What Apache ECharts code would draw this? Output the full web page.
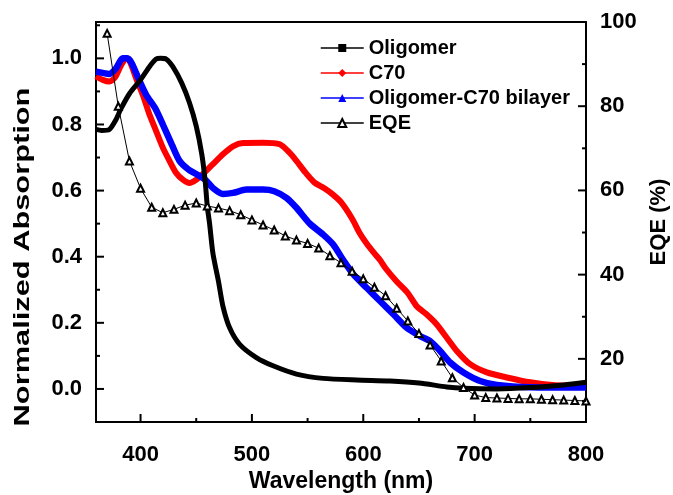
<!DOCTYPE html>
<html>
<head>
<meta charset="utf-8">
<script src="https://cdn.jsdelivr.net/npm/echarts@6/dist/echarts.min.js"></script>
<style>
html,body{margin:0;padding:0;background:#fff;}
#chart{width:673px;height:495px;}
</style>
</head>
<body>
<div id="chart"></div>
<script>
// ---- data ----
const oligomerNm  = [360,365,372,378,382,390,400,408,414,418,423,429,437,444,450,455,458,460,462,465,470,474,480,489,504,519,540,564,594,624,650,675,690,720,750,780,800];
const oligomerAbs = [0.785,0.782,0.785,0.815,0.845,0.893,0.935,0.975,0.998,1.0,0.998,0.975,0.925,0.865,0.795,0.71,0.63,0.55,0.5,0.41,0.325,0.25,0.185,0.135,0.095,0.07,0.045,0.032,0.027,0.024,0.018,0.006,0.002,0.0,0.004,0.012,0.02];

const c70Nm  = [360,366,372,377,382,386,388,391,396,402,408,414,420,426,432,438,444,450,456,465,474,483,492,510,525,534,540,548,556,565,572,580,590,597,603,610,615,620,630,640,648,657,666,675,684,696,711,730,750,770,800];
const c70Abs = [0.946,0.935,0.93,0.942,0.976,0.998,1.0,0.986,0.94,0.89,0.83,0.78,0.73,0.69,0.653,0.633,0.623,0.633,0.65,0.68,0.71,0.734,0.744,0.745,0.74,0.714,0.69,0.655,0.625,0.607,0.59,0.565,0.515,0.47,0.44,0.41,0.39,0.365,0.325,0.29,0.25,0.225,0.195,0.155,0.115,0.075,0.05,0.034,0.02,0.012,0.009];

const bilayerNm  = [360,366,372,378,384,388,392,398,405,413,420,428,435,443,450,458,465,474,483,495,510,520,531,540,552,564,573,582,591,603,615,627,639,651,660,669,678,690,705,720,750,800];
const bilayerAbs = [0.96,0.956,0.953,0.97,1.0,1.0,0.986,0.94,0.89,0.85,0.8,0.74,0.69,0.664,0.65,0.633,0.608,0.59,0.593,0.603,0.603,0.598,0.578,0.548,0.5,0.467,0.437,0.39,0.347,0.306,0.266,0.226,0.185,0.16,0.145,0.115,0.08,0.05,0.024,0.012,0.005,0.004];

const eqeNm  = [370,380,390,400,410,420,430,440,450,460,470,480,490,500,510,520,530,540,550,560,570,580,590,600,610,620,630,640,650,660,670,680,690,700,710,720,730,740,750,760,770,780,790,800];
const eqeVal = [97.3,80,67,60.5,56,54.7,55.5,56.5,57,56.3,55.8,55.2,54.2,53,51.8,50.6,49.2,48.2,47.4,46.3,44.5,42.8,40.8,39,37,35,32,29,26,23.3,19.5,15.5,13.2,11.4,10.8,10.7,10.6,10.5,10.5,10.4,10.3,10.2,10.1,10.0];

const seriesNames = ['Oligomer','C70','Oligomer-C70 bilayer','EQE'];

// axis ranges and tick values
const xRange   = [360, 800];
const absRange = [-0.1, 1.11];
const eqeRange = [5, 100];
const xMajorTicks   = [400,500,600,700,800];
const xMinorTicks   = [450,550,650,750];
const absMajorTicks = [0,0.2,0.4,0.6,0.8,1.0];
const absMinorTicks = [0.1,0.3,0.5,0.7,0.9,1.1];
const eqeMajorTicks = [20,40,60,80,100];
const eqeMinorTicks = [10,30,50,70,90];

// ---- chart ----
const FONT = "'Liberation Sans', Arial, Helvetica, sans-serif";
const zip = (a,b) => a.map((x,i)=>[x,b[i]]);
const chart = echarts.init(document.getElementById('chart'), null, {renderer:'canvas'});

const lbl = () => ({fontFamily:FONT, fontWeight:'bold', fontSize:22, color:'#000'});

// axis titles as text elements
const titles = [
  {type:'text',x:23,y:257,rotation:Math.PI/2,scaleX:1.4,scaleY:1,z:50,
   style:{text:'Normalized Absorption',font:"bold 22px "+FONT,fill:'#000',align:'center',verticalAlign:'middle'}},
  {type:'text',x:341,y:482,z:50,
   style:{text:'Wavelength (nm)',font:"bold 23px "+FONT,fill:'#000',align:'center',verticalAlign:'middle'}},
  {type:'text',x:659,y:222,rotation:Math.PI/2,z:50,
   style:{text:'EQE (%)',font:"bold 22px "+FONT,fill:'#000',align:'center',verticalAlign:'middle'}}
];

const option = {
  animation:false,
  backgroundColor:'#fff',
  grid:{left:96,right:87,top:22,bottom:73,show:true,borderColor:'#000',borderWidth:2,
        backgroundColor:'transparent',outerBoundsMode:'none'},
  legend:{
    orient:'vertical', left:315, top:33, itemWidth:43, itemHeight:10, itemGap:5,
    data:seriesNames,
    textStyle:{fontFamily:FONT,fontWeight:'bold',fontSize:20,color:'#000'},
    lineStyle:{width:1.5}
  },
  xAxis:[
    {type:'value',min:xRange[0],max:xRange[1],position:'bottom',
     axisLine:{show:false,onZero:false},
     axisTick:{show:false},
     axisLabel:Object.assign({margin:22,customValues:xMajorTicks},lbl()),
     splitLine:{show:false}}
  ],
  yAxis:[
    {type:'value',min:absRange[0],max:absRange[1],position:'left',
     axisLine:{show:false,onZero:false},
     axisTick:{show:false},
     axisLabel:Object.assign({margin:14,customValues:absMajorTicks,formatter:v=>v.toFixed(1)},lbl()),
     splitLine:{show:false}},
    {type:'value',min:eqeRange[0],max:eqeRange[1],position:'right',
     axisLine:{show:false,onZero:false},
     axisTick:{show:false},
     axisLabel:Object.assign({margin:14,customValues:eqeMajorTicks},lbl()),
     splitLine:{show:false}}
  ],
  graphic:titles,
  series:[
    {name:seriesNames[0],type:'line',xAxisIndex:0,yAxisIndex:0,data:zip(oligomerNm,oligomerAbs),
     smooth:0.25,showSymbol:false,symbol:'rect',symbolSize:6,
     lineStyle:{color:'#000',width:5},itemStyle:{color:'#000'},z:4},
    {name:seriesNames[1],type:'line',xAxisIndex:0,yAxisIndex:0,data:zip(c70Nm,c70Abs),
     smooth:0.25,showSymbol:false,symbol:'diamond',symbolSize:8,
     lineStyle:{color:'#ff0000',width:6},itemStyle:{color:'#ff0000'},z:2},
    {name:seriesNames[2],type:'line',xAxisIndex:0,yAxisIndex:0,data:zip(bilayerNm,bilayerAbs),
     smooth:0.25,showSymbol:false,symbol:'triangle',symbolSize:8,
     lineStyle:{color:'#0000ff',width:6.5},itemStyle:{color:'#0000ff'},z:3},
    {name:seriesNames[3],type:'line',xAxisIndex:0,yAxisIndex:1,data:zip(eqeNm,eqeVal),
     smooth:false,showSymbol:true,symbol:'emptyTriangle',symbolSize:7,
     lineStyle:{color:'#000',width:1},itemStyle:{color:'#000',borderWidth:1},z:5}
  ]
};
try { chart.setOption(option); } catch (e) { console.error(e); }

// inward tick marks, positioned through the axes' own scales
try {
  const px = v => chart.convertToPixel({xAxisIndex:0}, v);
  const pyAbs = v => chart.convertToPixel({yAxisIndex:0}, v);
  const pyEqe = v => chart.convertToPixel({yAxisIndex:1}, v);
  const xLeft = px(xRange[0]), xRight = px(xRange[1]), yBottom = pyAbs(absRange[0]);
  const tickEl = (x1,y1,x2,y2) => ({type:'line',silent:true,z:100,
    shape:{x1:x1,y1:y1,x2:x2,y2:y2},style:{stroke:'#000',lineWidth:2}});
  const ticks = [];
  xMajorTicks.forEach(v => { const x = px(v); ticks.push(tickEl(x,yBottom,x,yBottom-8)); });
  xMinorTicks.forEach(v => { const x = px(v); ticks.push(tickEl(x,yBottom,x,yBottom-4)); });
  absMajorTicks.forEach(v => { const y = pyAbs(v); ticks.push(tickEl(xLeft,y,xLeft+8,y)); });
  absMinorTicks.forEach(v => { const y = pyAbs(v); ticks.push(tickEl(xLeft,y,xLeft+4,y)); });
  eqeMajorTicks.forEach(v => { const y = pyEqe(v); ticks.push(tickEl(xRight,y,xRight-8,y)); });
  eqeMinorTicks.forEach(v => { const y = pyEqe(v); ticks.push(tickEl(xRight,y,xRight-4,y)); });
  chart.setOption({graphic:titles.concat(ticks)});
} catch (e) { console.error(e); }
</script>
</body>
</html>
